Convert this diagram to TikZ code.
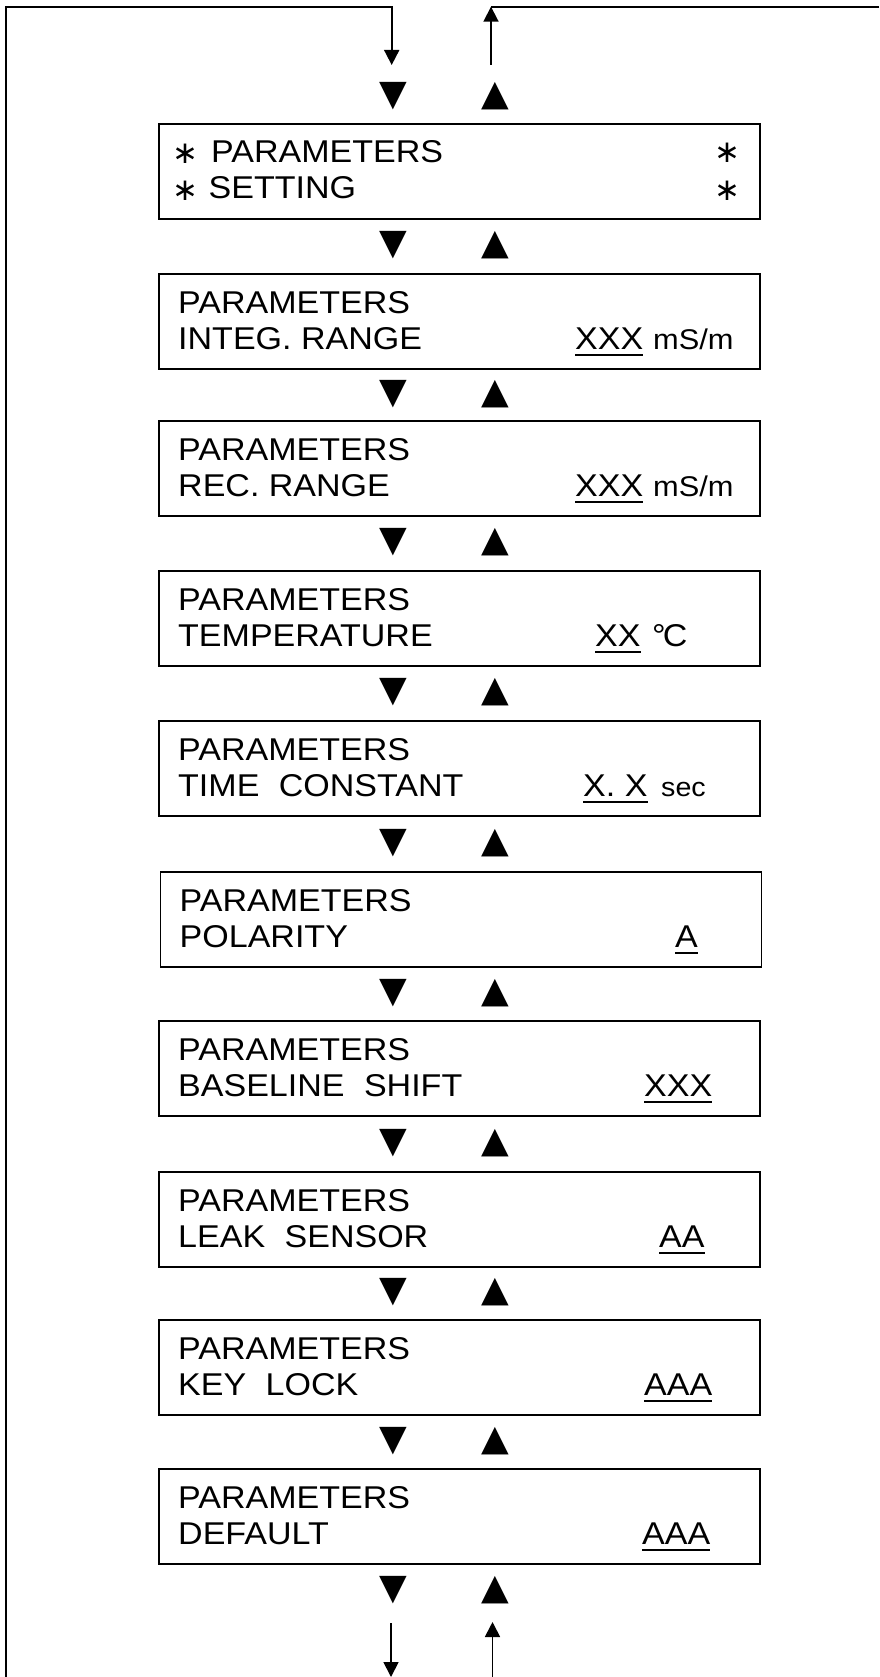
\documentclass[tikz,border=0pt]{standalone}
\usepackage{fontspec}
\setmainfont{Liberation Sans}[FakeStretch=1.08]
\newfontfamily\symfont{DejaVu Sans}
\usetikzlibrary{calc,arrows.meta}
\newcommand\mainsz{\fontsize{31.5pt}{36pt}\selectfont}
\newcommand\unitsz{\fontsize{28.5pt}{34pt}\selectfont}
\newcommand\secsz{\fontsize{26.5pt}{32pt}\selectfont}
\newcommand\trisz{\symfont\fontsize{36pt}{40pt}\selectfont}
\newcommand\astsz{\symfont\fontsize{31pt}{36pt}\selectfont}
\begin{document}
\begin{tikzpicture}[x=1pt,y=-1pt,
  box/.style={draw, line width=1.8pt, minimum width=601pt, minimum height=95pt, inner sep=0pt, anchor=north west},
  txt/.style={anchor=base west, inner sep=0pt, font=\mainsz},
  unit/.style={anchor=base west, inner sep=0pt, font=\unitsz},
  tri/.style={inner sep=0pt, font=\trisz},
  ast/.style={inner sep=0pt, font=\astsz},
  wire/.style={line width=1.8pt, line join=miter},
  arr/.style={wire, -{Triangle[length=15pt,width=15pt]}},
  uline/.style={line width=1.8pt}]
\useasboundingbox (0,0) rectangle (879,1677);
\fill[white] (0,0) rectangle (879,1677);

% boxes
\foreach \i/\x/\t in {1/158/123,2/158/273,3/158/420,4/158/570,5/158/720,6/159.5/871,7/158/1020,8/158/1171,9/158/1319,10/158/1468}
  \node[box] (b\i) at (\x,\t) {};

% triangles
\foreach \j/\y in {0/96,1/245.5,2/394,3/542.5,4/692.5,5/843,6/993,7/1143,8/1292.5,9/1441,10/1590}{
  \node[tri] (dn\j) at (393,\y) {▼};
  \node[tri] (up\j) at (495,\y) {▲};
}

% box 1
\node[ast] (a1) at (185.5,154) {∗};
\node[ast] (a2) at (185.5,190.5) {∗};
\node[ast] (a3) at (727,153) {∗};
\node[ast] (a4) at (727,190.5) {∗};
\node[txt] (p1) at (211,163) {PARAMETERS};
\node[txt] (l1) at (208.5,199) {SETTING};

% other boxes: first lines
\foreach \i in {2,3,4,5,6,7,8,9,10}
  \node[txt] (p\i) at ($(b\i.north west)+(20,40.5)$) {PARAMETERS};

\node[txt] (l2) at ($(b2.north west)+(20,76)$) {INTEG. RANGE};
\node[txt] (l3) at ($(b3.north west)+(20,76)$) {REC. RANGE};
\node[txt] (l4) at ($(b4.north west)+(20,76)$) {TEMPERATURE};
\node[txt] (l5) at ($(b5.north west)+(20,76)$) {TIME\hspace{10pt} CONSTANT};
\node[txt] (l6) at ($(b6.north west)+(20,76)$) {POLARITY};
\node[txt] (l7) at ($(b7.north west)+(20,76)$) {BASELINE\hspace{10pt} SHIFT};
\node[txt] (l8) at ($(b8.north west)+(20,76)$) {LEAK\hspace{10pt} SENSOR};
\node[txt] (l9) at ($(b9.north west)+(20,76)$) {KEY\hspace{10pt} LOCK};
\node[txt] (l10) at ($(b10.north west)+(20,76)$) {DEFAULT};

% values
\node[txt] (v2) at (575,349) {XXX};
\node[unit] (u2) at (653,349) {mS/m};
\node[txt] (v3) at (575,496) {XXX};
\node[unit] (u3) at (653,496) {mS/m};
\node[txt] (v4) at (595,646) {XX};
\node[txt] (u4) at (652,646) {°\kern-3pt C};
\node[txt] (v5) at (583,796) {X. X};
\node[unit, font=\secsz] (u5) at (661,796) {sec};
\node[txt] (v6) at (675,947) {A};
\node[txt] (v7) at (644,1096) {XXX};
\node[txt] (v8) at (659,1247) {AA};
\node[txt] (v9) at (644,1395) {AAA};
\node[txt] (v10) at (642,1544) {AAA};
\foreach \k in {2,...,10}
  \draw[uline] ($(v\k.base west)+(0,6)$) -- ($(v\k.base east)+(0,6)$);

% loop connectors
\coordinate (lb) at (5.6,1677);
\coordinate (lt) at (5.6,6.7);
\coordinate (dt) at (391.7,6.7);
\coordinate (de) at (391.7,65);
\coordinate (rr) at (879,6.7);
\coordinate (ut) at (491,6.7);
\coordinate (ub) at (491,65);
\coordinate (bd1) at (391,1623);
\coordinate (bd2) at (391,1677);
\coordinate (bu1) at (492.5,1677);
\coordinate (bu2) at (492.5,1622);
\draw[arr] (lb) -- (lt) -- (dt) -- (de);
\draw[wire] (rr) -- (ut);
\draw[arr] (ub) -- (ut);
\draw[arr] (bd1) -- (bd2);
\draw[arr] (bu1) -- (bu2);
\end{tikzpicture}
\end{document}
